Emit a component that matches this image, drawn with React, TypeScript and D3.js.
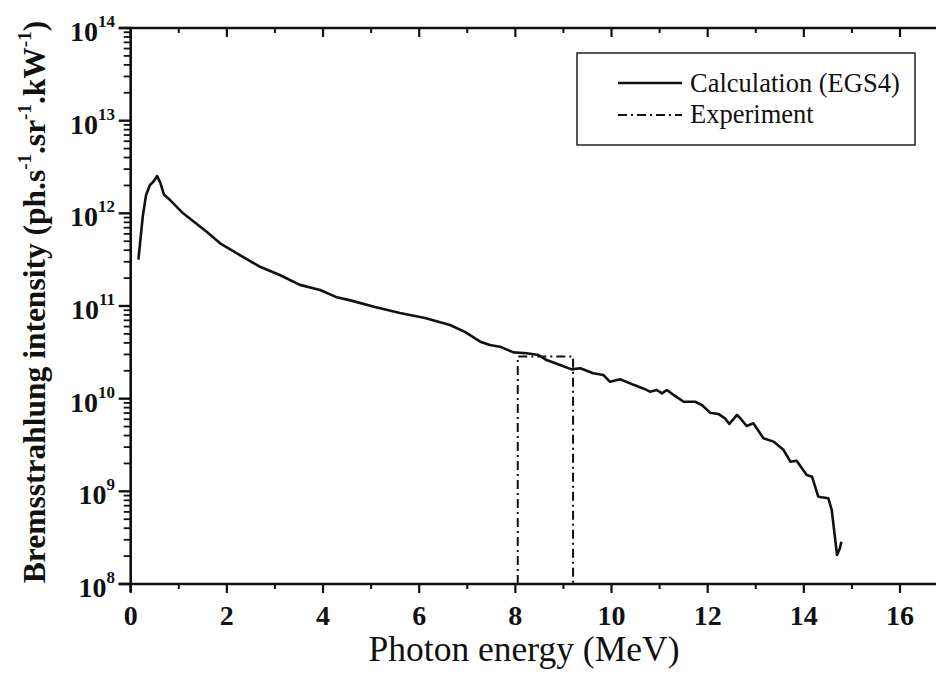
import React from "react";
import * as d3 from "d3";

const energy = [0.16, 0.25, 0.32, 0.40, 0.47, 0.55, 0.62, 0.69, 0.82, 1.09, 1.58, 1.86, 2.27, 2.69, 3.10, 3.52, 3.94, 4.29, 4.57, 5.08, 5.60, 6.12, 6.64, 6.95, 7.27, 7.47, 7.68, 7.96, 8.24, 8.48, 8.65, 8.93, 9.17, 9.35, 9.62, 9.83, 9.97, 10.18, 10.46, 10.66, 10.80, 10.94, 11.05, 11.15, 11.29, 11.50, 11.74, 11.88, 12.05, 12.22, 12.36, 12.45, 12.61, 12.68, 12.81, 12.95, 13.16, 13.37, 13.58, 13.72, 13.85, 14.06, 14.17, 14.30, 14.51, 14.58, 14.69, 14.75, 14.78];
const intensity = [3.16e11, 9.18e11, 1.58e12, 2.02e12, 2.19e12, 2.53e12, 2.11e12, 1.6e12, 1.39e12, 1.0e12, 6.34e11, 4.75e11, 3.55e11, 2.65e11, 2.16e11, 1.69e11, 1.49e11, 1.24e11, 1.15e11, 9.75e10, 8.41e10, 7.43e10, 6.24e10, 5.25e10, 4.12e10, 3.79e10, 3.64e10, 3.16e10, 3.09e10, 2.96e10, 2.61e10, 2.31e10, 2.07e10, 2.13e10, 1.88e10, 1.8e10, 1.52e10, 1.62e10, 1.41e10, 1.29e10, 1.19e10, 1.24e10, 1.14e10, 1.24e10, 1.1e10, 9.27e9, 9.27e9, 8.55e9, 7.06e9, 6.84e9, 6.14e9, 5.33e9, 6.67e9, 6.14e9, 5.07e9, 5.42e9, 3.74e9, 3.44e9, 2.79e9, 2.09e9, 2.14e9, 1.5e9, 1.44e9, 8.75e8, 8.41e8, 6.3e8, 2.06e8, 2.43e8, 2.86e8];

const expEnergy = [8.05, 8.05, 9.2, 9.2];
const expIntensity = [1e8, 2.85e10, 2.85e10, 1e8];

const xTicksMajor = [0, 2, 4, 6, 8, 10, 12, 14, 16];
const xTicksMinor = [1, 3, 5, 7, 9, 11, 13, 15];
const yExponents = [8, 9, 10, 11, 12, 13, 14];

const legendLabels = ["Calculation (EGS4)", "Experiment"];

const W = 936;
const H = 684;
const FONT = "Liberation Serif, Times New Roman, Times, serif";

export default function App() {
  const x = d3.scaleLinear().domain([0, 16]).range([130.7, 900]);
  const y = d3.scaleLog().domain([1e8, 1e14]).range([584, 28]);
  const left = x(0);
  const bottom = y(1e8);
  const top = y(1e14);

  const line = d3
    .line<number>()
    .x((_, i) => x(energy[i]))
    .y((d) => y(d));
  const expLine = d3
    .line<number>()
    .x((_, i) => x(expEnergy[i]))
    .y((d) => y(d));

  const minorY: number[] = [];
  for (let e = 8; e < 14; e++) {
    for (let m = 2; m <= 9; m++) minorY.push(m * Math.pow(10, e));
  }

  const dash = "9,4,2,4";

  return (
    <svg
      width={W}
      height={H}
      style={{ position: "absolute", left: 0, top: 0, background: "#fff", fontFamily: FONT }}
    >
      <rect x={0} y={0} width={W} height={H} fill="#fff" />
      <line x1={left - 12} x2={W} y1={bottom} y2={bottom} stroke="#111" strokeWidth={2.6} />
      <line x1={left - 12} x2={W} y1={top} y2={top} stroke="#111" strokeWidth={2.6} />
      <line x1={left} x2={left} y1={top} y2={bottom + 8} stroke="#111" strokeWidth={2.6} />

      {xTicksMajor.map((t) => (
        <line key={"xb" + t} x1={x(t)} x2={x(t)} y1={bottom} y2={bottom + 9} stroke="#111" strokeWidth={2.2} />
      ))}
      {xTicksMinor.map((t) => (
        <line key={"xbm" + t} x1={x(t)} x2={x(t)} y1={bottom} y2={bottom + 5} stroke="#111" strokeWidth={2} />
      ))}
      {xTicksMajor.map((t) => (
        <line key={"xt" + t} x1={x(t)} x2={x(t)} y1={top} y2={top + 9} stroke="#111" strokeWidth={2.2} />
      ))}
      {xTicksMinor.map((t) => (
        <line key={"xtm" + t} x1={x(t)} x2={x(t)} y1={top} y2={top + 5} stroke="#111" strokeWidth={2} />
      ))}
      {xTicksMajor.map((t) => (
        <text key={"xl" + t} x={x(t)} y={625} textAnchor="middle" fontSize={28} fontWeight="bold" fill="#111" style={{ fontFamily: FONT }}>
          {t}
        </text>
      ))}

      {yExponents.map((e) => (
        <line key={"yt" + e} x1={left - 12} x2={left} y1={y(Math.pow(10, e))} y2={y(Math.pow(10, e))} stroke="#111" strokeWidth={2.4} />
      ))}
      {minorY.map((v, i) => (
        <line key={"ym" + i} x1={left - 7} x2={left} y1={y(v)} y2={y(v)} stroke="#111" strokeWidth={1.8} />
      ))}
      {yExponents.map((e) => (
        <text key={"yl" + e} x={115} y={y(Math.pow(10, e)) + 13} textAnchor="end" fontSize={28} fontWeight="bold" fill="#111" style={{ fontFamily: FONT }}>
          10
          <tspan fontSize={17} dy={-14}>{e}</tspan>
        </text>
      ))}

      <path d={line(intensity) || ""} fill="none" stroke="#111" strokeWidth={2.6} strokeLinejoin="round" />
      <path d={expLine(expIntensity) || ""} fill="none" stroke="#111" strokeWidth={2} strokeDasharray={dash} />

      <rect x={577} y={53} width={338} height={92} fill="#fff" stroke="#222" strokeWidth={1.5} />
      <line x1={618} x2={682} y1={83} y2={83} stroke="#111" strokeWidth={2.4} />
      <line x1={618} x2={682} y1={115} y2={115} stroke="#111" strokeWidth={2} strokeDasharray={dash} />
      <text x={690} y={92} fontSize={26.5} fill="#111" style={{ fontFamily: FONT }}>
        {legendLabels[0]}
      </text>
      <text x={690} y={123} fontSize={26.5} fill="#111" style={{ fontFamily: FONT }}>
        {legendLabels[1]}
      </text>

      <text x={524} y={661} textAnchor="middle" fontSize={35.5} fill="#111" style={{ fontFamily: FONT }}>
        Photon energy (MeV)
      </text>
      <text transform="translate(45,302) rotate(-90)" textAnchor="middle" fontSize={31.5} fontWeight="bold" fill="#111" style={{ fontFamily: FONT }}>
        Bremsstrahlung intensity (ph.s
        <tspan fontSize={19} dy={-14}>-1</tspan>
        <tspan dy={14}>.sr</tspan>
        <tspan fontSize={19} dy={-14}>-1</tspan>
        <tspan dy={14}>.kW</tspan>
        <tspan fontSize={19} dy={-14}>-1</tspan>
        <tspan dy={14}>)</tspan>
      </text>
    </svg>
  );
}
